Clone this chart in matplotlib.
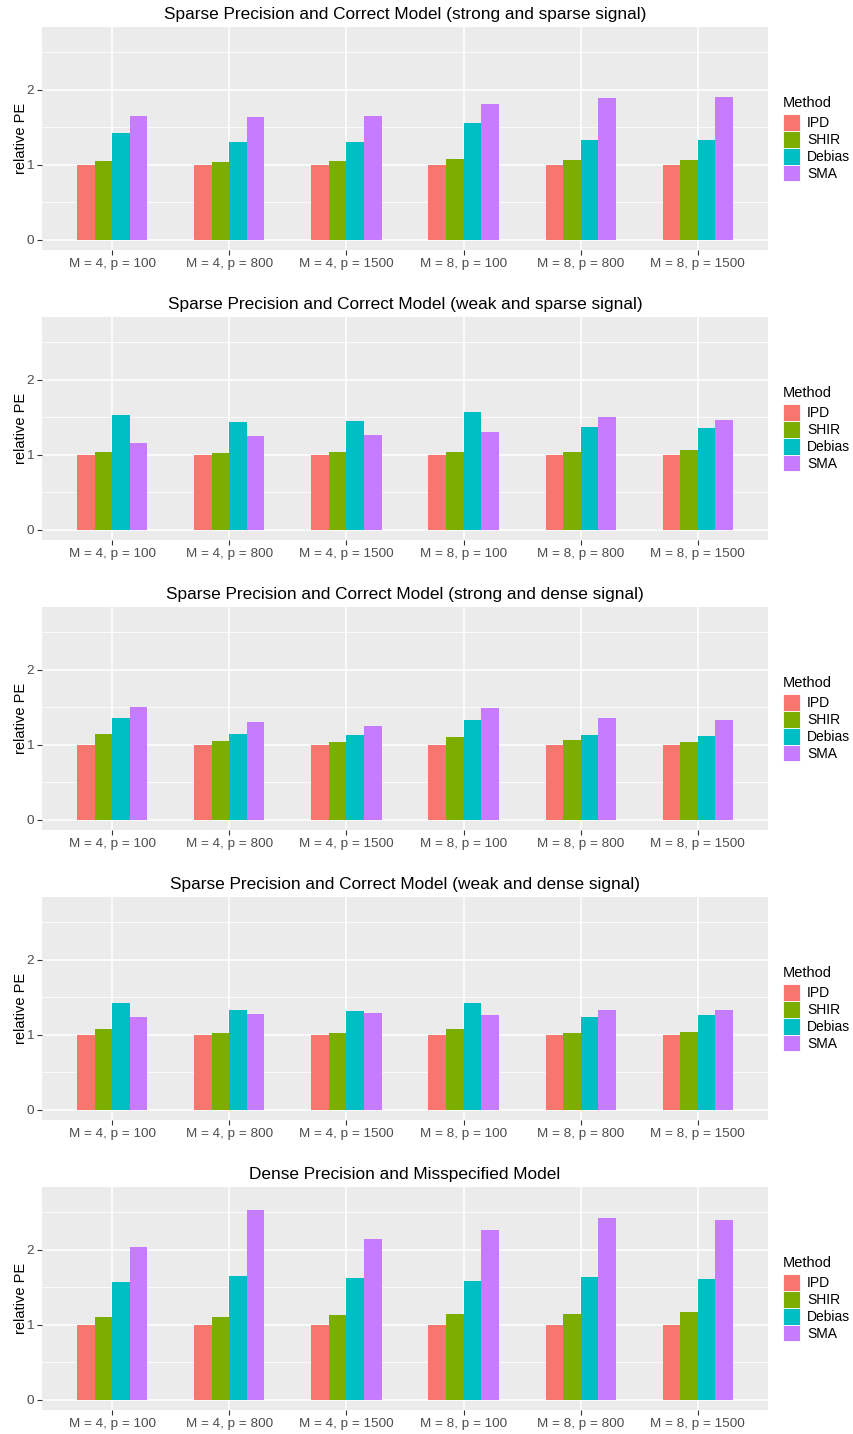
import numpy as np
import matplotlib
matplotlib.use("Agg")
import matplotlib.pyplot as plt

plt.rcParams['font.family'] = ['Liberation Sans', 'DejaVu Sans']

categories = ["M = 4, p = 100", "M = 4, p = 800", "M = 4, p = 1500",
              "M = 8, p = 100", "M = 8, p = 800", "M = 8, p = 1500"]
methods = ["IPD", "SHIR", "Debias", "SMA"]
colors = ["#F8766D", "#7CAE00", "#00BFC4", "#C77CFF"]

titles = [
    "Sparse Precision and Correct Model (strong and sparse signal)",
    "Sparse Precision and Correct Model (weak and sparse signal)",
    "Sparse Precision and Correct Model (strong and dense signal)",
    "Sparse Precision and Correct Model (weak and dense signal)",
    "Dense Precision and Misspecified Model",
]

# relative PE, one list per method, values per category
strong_sparse = {
    "IPD":    [1.00, 1.00, 1.00, 1.00, 1.00, 1.00],
    "SHIR":   [1.044, 1.031, 1.044, 1.071, 1.058, 1.058],
    "Debias": [1.418, 1.310, 1.298, 1.551, 1.324, 1.324],
    "SMA":    [1.644, 1.631, 1.644, 1.804, 1.884, 1.898],
}
weak_sparse = {
    "IPD":    [1.00, 1.00, 1.00, 1.00, 1.00, 1.00],
    "SHIR":   [1.036, 1.022, 1.036, 1.036, 1.036, 1.062],
    "Debias": [1.530, 1.436, 1.449, 1.569, 1.369, 1.356],
    "SMA":    [1.156, 1.249, 1.262, 1.302, 1.502, 1.462],
}
strong_dense = {
    "IPD":    [1.00, 1.00, 1.00, 1.00, 1.00, 1.00],
    "SHIR":   [1.142, 1.049, 1.036, 1.102, 1.062, 1.036],
    "Debias": [1.356, 1.142, 1.129, 1.329, 1.129, 1.116],
    "SMA":    [1.502, 1.302, 1.249, 1.489, 1.356, 1.329],
}
weak_dense = {
    "IPD":    [1.00, 1.00, 1.00, 1.00, 1.00, 1.00],
    "SHIR":   [1.076, 1.022, 1.022, 1.076, 1.022, 1.036],
    "Debias": [1.422, 1.329, 1.316, 1.422, 1.236, 1.262],
    "SMA":    [1.236, 1.276, 1.289, 1.262, 1.329, 1.329],
}
dense_misspec = {
    "IPD":    [1.00, 1.00, 1.00, 1.00, 1.00, 1.00],
    "SHIR":   [1.097, 1.110, 1.124, 1.137, 1.150, 1.164],
    "Debias": [1.564, 1.644, 1.617, 1.577, 1.630, 1.604],
    "SMA":    [2.030, 2.524, 2.137, 2.257, 2.417, 2.390],
}
panels = [strong_sparse, weak_sparse, strong_dense, weak_dense, dense_misspec]

W, H = 854, 1434
fig = plt.figure(figsize=(W / 100, H / 100), dpi=100)

x = np.arange(1, len(categories) + 1)
bw = 0.15

for i, (title, data) in enumerate(zip(titles, panels)):
    top = 27 + 290 * i
    bottom = 250 + 290 * i
    ax = fig.add_axes([42 / W, 1 - bottom / H, 726 / W, (bottom - top) / H])
    ax.set_facecolor("#EBEBEB")
    for s in ax.spines.values():
        s.set_visible(False)

    handles = []
    for j, m in enumerate(methods):
        h = ax.bar(x + (j - 1.5) * bw, data[m], width=bw, color=colors[j],
                   label=m, zorder=3)
        handles.append(h)

    ax.set_xlim(0.4, 6.6)
    ax.set_ylim(-0.135, 2.835)
    ax.set_xticks(x)
    ax.set_xticklabels(categories)
    ax.set_yticks([0, 1, 2])
    ax.set_yticks([0.5, 1.5, 2.5], minor=True)
    ax.grid(which="major", color="white", linewidth=1.1, zorder=0)
    ax.grid(which="minor", axis="y", color="white", linewidth=0.55, zorder=0)
    ax.set_axisbelow(True)
    ax.tick_params(axis="both", which="major", colors="#333333", length=3.5,
                   width=0.8, labelsize=9.7, labelcolor="#4D4D4D", pad=2.5)
    ax.tick_params(axis="both", which="minor", length=0)
    ax.set_ylabel("relative PE", fontsize=10.5, color="black", labelpad=-1.2)
    ax.set_title(title, fontsize=12.4, color="black", pad=6)

    leg = ax.legend(handles=handles, title="Method", loc="center left",
                    bbox_to_anchor=(783 / W, 1 - (top + bottom) / 2 / H),
                    bbox_transform=fig.transFigure, frameon=False,
                    fontsize=10, title_fontsize=10.5, handlelength=1.22,
                    handleheight=1.5, labelspacing=0.0, handletextpad=0.5,
                    borderpad=0, borderaxespad=0)
    leg._legend_box.align = "left"
    leg._legend_box.sep = 3
    for p in leg.get_patches():
        p.set_edgecolor("white")
        p.set_linewidth(0.6)

fig.savefig("out.png", dpi=100)
